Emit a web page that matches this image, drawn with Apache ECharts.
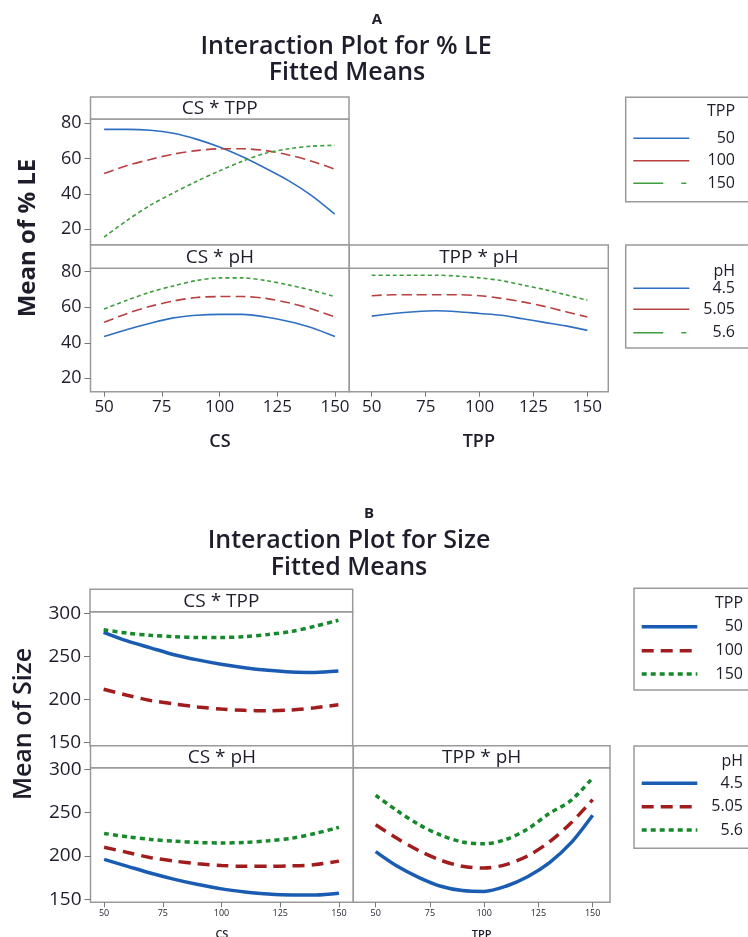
<!DOCTYPE html>
<html>
<head>
    <meta charset="utf-8">
    <title>Interaction Plot</title>
    <script src="https://cdn.jsdelivr.net/npm/echarts@6/dist/echarts.min.js"></script>
    <style>
        html, body { margin: 0; padding: 0; background: #fff; }
        #chart { width: 748px; height: 937px; }
    </style>
</head>
<body>
<div id="chart"></div>
<script>
    // x levels (CS or TPP) at which the fitted means were read
    var xs = [50, 60, 70, 80, 90, 100, 110, 120, 130, 140, 150];
    var xTicks = [50, 75, 100, 125, 150];
    var leTicks = [20, 40, 60, 80];
    var sizeTicks = [150, 200, 250, 300];
    var tppLevels = ['50', '100', '150'];
    var phLevels = ['4.5', '5.05', '5.6'];

    // A: % LE
    var leCsTpp50  = [76.5, 76.5, 76, 74.3, 71, 66.5, 61, 54.5, 47.5, 39, 28.5];
    var leCsTpp100 = [51.5, 56, 59.5, 62.5, 64.5, 65.5, 65.5, 64.5, 62, 58.5, 54];
    var leCsTpp150 = [15.5, 25, 33.5, 40.5, 47, 53, 58.5, 63, 65.5, 67, 67.5];
    var leCsPh45   = [43.5, 47.5, 51, 54, 55.5, 56, 56, 54.5, 52, 48.5, 43.5];
    var leCsPh505  = [51.5, 56.5, 60.5, 63.5, 65.5, 66, 66, 65, 62.5, 59, 54.5];
    var leCsPh56   = [59, 64, 68.5, 72, 75, 76.5, 76.5, 75, 72.5, 69.5, 66];
    var leTppPh45  = [55, 56.5, 57.5, 58, 57.5, 56.5, 55.5, 53.5, 51.5, 49.5, 47];
    var leTppPh505 = [66.5, 67, 67, 67, 67, 66.5, 65, 63, 60.5, 57.5, 54.5];
    var leTppPh56  = [78, 78, 78, 78, 77.5, 76.5, 75, 72.5, 70, 67, 64];

    // B: Size
    var szCsTpp50  = [278, 268, 260, 252, 246, 241, 237, 234, 232, 231.5, 233];
    var szCsTpp100 = [212, 205, 199, 195, 191.5, 189, 187.5, 187, 188, 190.5, 194];
    var szCsTpp150 = [281, 277, 274.5, 273, 272, 272, 273, 275.5, 279, 285, 292];
    var szCsPh45   = [196, 188, 180, 173, 167, 162, 158.5, 156, 155, 155, 157];
    var szCsPh505  = [210, 204, 198, 194, 191, 189, 188, 188, 188.5, 190, 194];
    var szCsPh56   = [226, 222, 219, 217, 215.5, 215, 215.5, 217.5, 220.5, 226, 233];
    var szTppPh45  = [205, 188, 175, 165, 160, 159, 165, 176, 192, 215, 247];
    var szTppPh505 = [236, 220, 206, 195, 188, 186, 190, 200, 216, 238, 265];
    var szTppPh56  = [270, 252, 236, 224, 216, 214, 219, 231, 249, 264, 290];

    var FONT = '"Open Sans", "Noto Sans", sans-serif';
    var TXT = '#1d1d2b';
    var BORDER = '#9a9a9a';

    var thinStyles = [
        {color: '#2f6fc2', width: 1.6, type: 'solid'},
        {color: '#b8403f', width: 1.6, type: [10, 5]},
        {color: '#3c9e3c', width: 1.6, type: [4, 3]}
    ];
    var thickStyles = [
        {color: '#1b5cb3', width: 3.5, type: 'solid'},
        {color: '#a11d1d', width: 3.5, type: [12, 7]},
        {color: '#17892c', width: 3.5, type: [5, 4]}
    ];

    var myChart = echarts.init(document.getElementById('chart'), null, {renderer: 'canvas'});

    var grids = [
        {left: 90.5, top: 119, width: 258.5, height: 126},      // A  CS*TPP
        {left: 90.5, top: 268.3, width: 258.8, height: 123.4},  // A  CS*pH
        {left: 349.3, top: 268.3, width: 259, height: 123.4},   // A  TPP*pH
        {left: 90, top: 611.7, width: 262.7, height: 134},      // B  CS*TPP
        {left: 90.5, top: 767.7, width: 262.8, height: 134.6},  // B  CS*pH
        {left: 353.3, top: 767.7, width: 256.7, height: 134.6}  // B  TPP*pH
    ];
    grids.forEach(function (g) {
        g.show = true;
        g.borderColor = BORDER;
        g.borderWidth = 1.5;
        g.backgroundColor = '#fff';
        g.containLabel = false;
        g.outerBoundsMode = 'none';
    });

    function xAxis(gi, min, max, labelSize, name, nameSize, nameGap) {
        var show = labelSize > 0;
        return {
            type: 'value', gridIndex: gi, min: min, max: max,
            axisLine: {show: false},
            splitLine: {show: false},
            axisTick: {show: show, length: 5, lineStyle: {color: '#777'}, customValues: xTicks},
            axisLabel: {show: show, customValues: xTicks, fontSize: labelSize || 12, color: TXT,
                fontFamily: FONT, margin: 7},
            name: name || '', nameLocation: 'middle', nameGap: nameGap || 0,
            nameTextStyle: {fontSize: nameSize || 12, color: TXT, fontFamily: FONT, fontWeight: 600}
        };
    }
    function yAxis(gi, min, max, ticks, labelSize) {
        var show = labelSize > 0;
        return {
            type: 'value', gridIndex: gi, min: min, max: max,
            axisLine: {show: false},
            splitLine: {show: false},
            axisTick: {show: show, length: 6, lineStyle: {color: '#777'}, customValues: ticks},
            axisLabel: {show: show, customValues: ticks, fontSize: labelSize || 12, color: TXT,
                fontFamily: FONT, margin: 9}
        };
    }

    var xAxes = [
        xAxis(0, 44.1, 156.2, 0),
        xAxis(1, 44.1, 156.2, 17, 'CS', 18, 41),
        xAxis(2, 39.6, 159.7, 17, 'TPP', 18, 41),
        xAxis(3, 44.2, 156.1, 0),
        xAxis(4, 44.2, 156.1, 9, 'CS', 11, 27),
        xAxis(5, 39.7, 158, 9, 'TPP', 11, 27)
    ];
    var yAxes = [
        yAxis(0, 11, 82.4, leTicks, 18),
        yAxis(1, 12.5, 81.9, leTicks, 18),
        yAxis(2, 12.5, 81.9, leTicks, 0),
        yAxis(3, 146.5, 301.9, sizeTicks, 19),
        yAxis(4, 146.5, 301.8, sizeTicks, 19),
        yAxis(5, 146.5, 301.8, sizeTicks, 0)
    ];

    function line(gi, ys, st) {
        return {
            type: 'line', xAxisIndex: gi, yAxisIndex: gi,
            data: xs.map(function (x, i) { return [x, ys[i]]; }),
            symbol: 'none', smooth: 0.3, silent: true,
            lineStyle: {color: st.color, width: st.width, type: st.type},
            itemStyle: {color: st.color}
        };
    }

    var series = [
        line(0, leCsTpp50, thinStyles[0]), line(0, leCsTpp100, thinStyles[1]), line(0, leCsTpp150, thinStyles[2]),
        line(1, leCsPh45, thinStyles[0]), line(1, leCsPh505, thinStyles[1]), line(1, leCsPh56, thinStyles[2]),
        line(2, leTppPh45, thinStyles[0]), line(2, leTppPh505, thinStyles[1]), line(2, leTppPh56, thinStyles[2]),
        line(3, szCsTpp50, thickStyles[0]), line(3, szCsTpp100, thickStyles[1]), line(3, szCsTpp150, thickStyles[2]),
        line(4, szCsPh45, thickStyles[0]), line(4, szCsPh505, thickStyles[1]), line(4, szCsPh56, thickStyles[2]),
        line(5, szTppPh45, thickStyles[0]), line(5, szTppPh505, thickStyles[1]), line(5, szTppPh56, thickStyles[2])
    ];

    // decorations: panel header strips, titles, legends
    var graphic = [];
    function text(x, y, s, size, weight, opts) {
        opts = opts || {};
        graphic.push({
            type: 'text', x: x, y: y, rotation: opts.rotation || 0, z: 10,
            style: {text: s, fill: TXT, align: opts.align || 'center', verticalAlign: 'middle',
                font: (weight || 'normal') + ' ' + size + 'px ' + FONT}
        });
    }
    function strip(x, y, w, h, label) {
        graphic.push({type: 'rect', z: 5, shape: {x: x, y: y, width: w, height: h},
            style: {fill: '#fff', stroke: BORDER, lineWidth: 1.5}});
        text(x + w / 2, y + h / 2 + 1, label, 19);
    }
    strip(90.5, 97, 258.5, 22, 'CS * TPP');
    strip(90.5, 245, 258.8, 23.3, 'CS * pH');
    strip(349.3, 245, 259, 23.3, 'TPP * pH');
    strip(90, 589.3, 262.7, 22.4, 'CS * TPP');
    strip(90.5, 745.7, 262.8, 22, 'CS * pH');
    strip(353.3, 745.7, 256.7, 22, 'TPP * pH');

    text(377, 20, 'A', 15, 'bold');
    text(346, 47, 'Interaction Plot for % LE', 25, 600);
    text(347, 73, 'Fitted Means', 25, 600);
    text(369, 514, 'B', 15, 'bold');
    text(349, 541, 'Interaction Plot for Size', 25, 600);
    text(349, 568, 'Fitted Means', 25, 600);

    text(28, 238, 'Mean of % LE', 24, 'bold', {rotation: Math.PI / 2});
    text(24, 724, 'Mean of Size', 25, 600, {rotation: Math.PI / 2});

    function legendBox(x, y, h, title, labels, styles, lx1, lx2, ys, textRight, dashes) {
        graphic.push({type: 'rect', z: 5, shape: {x: x, y: y, width: 160, height: h},
            style: {fill: '#fff', stroke: BORDER, lineWidth: 1.5}});
        text(textRight, ys[0], title, 16, 'normal', {align: 'right'});
        labels.forEach(function (lab, i) {
            graphic.push({type: 'line', z: 11,
                shape: {x1: lx1, y1: ys[i + 1], x2: lx2, y2: ys[i + 1]},
                style: {stroke: styles[i].color, lineWidth: styles[i].width,
                    lineDash: dashes ? dashes[i] : (styles[i].type === 'solid' ? null : styles[i].type)}});
            text(textRight, ys[i + 1], lab, 16, 'normal', {align: 'right'});
        });
    }
    var thinLegendDash = [null, null, [30, 18, 5, 40]];
    legendBox(625.7, 97.3, 104.4, 'TPP', tppLevels, thinStyles, 633.3, 689.3,
        [111.7, 138.3, 160.7, 183.3], 735, thinLegendDash);
    legendBox(625.7, 245, 103, 'pH', phLevels, thinStyles, 633.3, 689.3,
        [271.7, 288.3, 309.3, 332.7], 735, thinLegendDash);
    legendBox(634, 588.3, 101.7, 'TPP', tppLevels, thickStyles, 641.7, 697.3,
        [603.3, 626.7, 650.7, 674], 743, null);
    legendBox(634, 746, 102.3, 'pH', phLevels, thickStyles, 641.7, 697.3,
        [761.7, 783.3, 806.7, 830], 743, null);

    myChart.setOption({
        animation: false,
        grid: grids,
        xAxis: xAxes,
        yAxis: yAxes,
        series: series,
        graphic: graphic
    });
</script>
</body>
</html>
